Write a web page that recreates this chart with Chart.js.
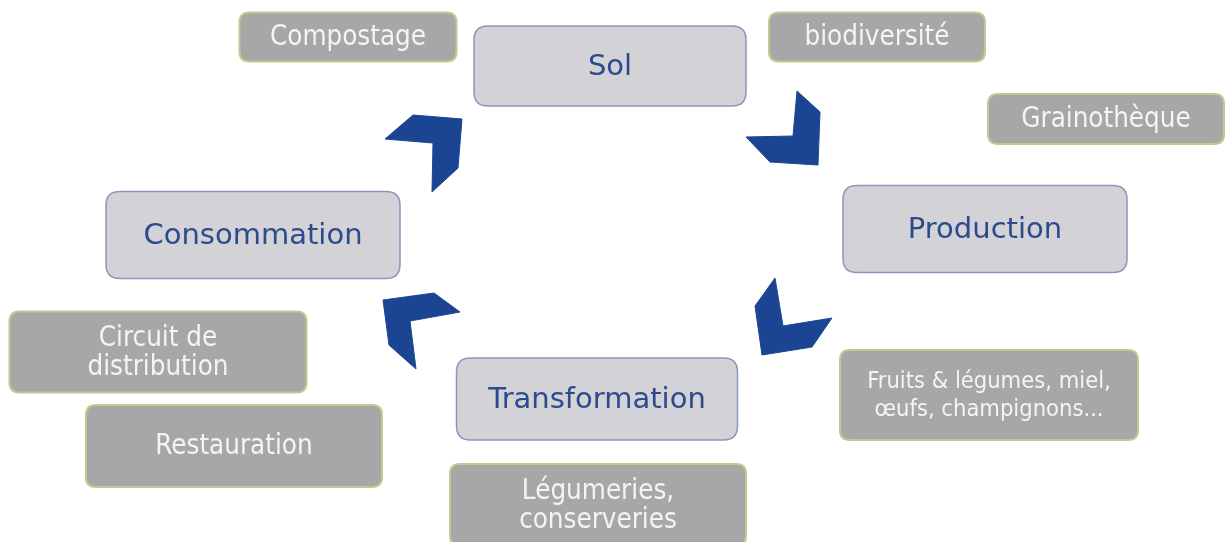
<!DOCTYPE html>
<html>
<head>
<meta charset="utf-8">
<script src="https://cdn.jsdelivr.net/npm/chart.js@4/dist/chart.umd.min.js"></script>
<style>
  html, body { margin: 0; padding: 0; background: #fff; }
  #wrap { width: 1225px; height: 542px; position: relative; }
</style>
</head>
<body>
<div id="wrap"><canvas id="cycleChart"></canvas></div>
<script>
// main steps of the cycle (centres and box sizes, in picture units)
const mainLabels = ['Sol', 'Production', 'Transformation', 'Consommation'];
const mainX = [610, 985, 597, 253];
const mainY = [66, 229, 399, 235];
const mainW = [272, 284, 281, 294];
const mainH = [80, 87, 82, 87];

// side notes
const sideLabels = [
  ['Compostage'],
  ['biodiversité'],
  ['Grainothèque'],
  ['Fruits & légumes, miel,', 'œufs, champignons...'],
  ['Circuit de', 'distribution'],
  ['Restauration'],
  ['Légumeries,', 'conserveries']
];
const sideX = [348, 877, 1106, 989, 158, 234, 598];
const sideY = [37, 37, 119, 395, 352, 446, 505];
const sideW = [217, 216, 236, 298, 297, 296, 296];
const sideH = [49, 49, 50, 90, 81, 82, 82];

// chevron arrows between steps
const arrowConsoSolX = [413, 462, 458, 432, 433, 385];
const arrowConsoSolY = [115, 119, 168, 192, 143, 139];
const arrowSolProdX = [797, 820, 818, 770, 746, 793];
const arrowSolProdY = [91, 112, 165, 162, 137, 136];
const arrowProdTransX = [775, 783, 832, 812, 762, 755];
const arrowProdTransY = [278, 326, 318, 347, 355, 306];
const arrowTransConsoX = [383, 434, 460, 410, 416, 389];
const arrowTransConsoY = [300, 293, 312, 321, 369, 345];

const ARROW_BLUE = '#1b4593';

function toPoints(xs, ys) {
  const pts = xs.map((x, i) => ({ x: x, y: ys[i] }));
  pts.push({ x: xs[0], y: ys[0] });
  return pts;
}

function chevron(xs, ys) {
  return {
    data: toPoints(xs, ys),
    borderColor: ARROW_BLUE,
    backgroundColor: ARROW_BLUE,
    borderWidth: 1,
    pointRadius: 0,
    tension: 0,
    fill: 'shape'
  };
}

function roundedBox(ctx, x, y, w, h, r) {
  ctx.beginPath();
  ctx.moveTo(x + r, y);
  ctx.lineTo(x + w - r, y);
  ctx.quadraticCurveTo(x + w, y, x + w, y + r);
  ctx.lineTo(x + w, y + h - r);
  ctx.quadraticCurveTo(x + w, y + h, x + w - r, y + h);
  ctx.lineTo(x + r, y + h);
  ctx.quadraticCurveTo(x, y + h, x, y + h - r);
  ctx.lineTo(x, y + r);
  ctx.quadraticCurveTo(x, y, x + r, y);
  ctx.closePath();
}

const boxesPlugin = {
  id: 'boxes',
  beforeDatasetsDraw(chart) {
    const ctx = chart.ctx;
    const xs = chart.scales.x, ys = chart.scales.y;
    ctx.save();
    ctx.textAlign = 'center';
    ctx.textBaseline = 'middle';

    // side notes
    sideLabels.forEach((lines, i) => {
      const l = xs.getPixelForValue(sideX[i] - sideW[i] / 2);
      const r = xs.getPixelForValue(sideX[i] + sideW[i] / 2);
      const t = ys.getPixelForValue(sideY[i] - sideH[i] / 2);
      const b = ys.getPixelForValue(sideY[i] + sideH[i] / 2);
      roundedBox(ctx, l, t, r - l, b - t, 10);
      ctx.fillStyle = '#a7a7a7';
      ctx.fill();
      ctx.lineWidth = 2;
      ctx.strokeStyle = '#b8cd8f';
      ctx.stroke();

      const small = lines[0].length > 15;
      ctx.font = (small ? '23.5px' : '27.5px') + ' "DejaVu Sans Condensed", "DejaVu Sans", sans-serif';
      ctx.fillStyle = '#f4f4f4';
      const gap = small ? 28 : 29;
      const cy = (t + b) / 2 + 1;
      lines.forEach((txt, k) => {
        ctx.fillText(txt, (l + r) / 2, cy + (k - (lines.length - 1) / 2) * gap);
      });
    });

    // main steps
    mainLabels.forEach((label, i) => {
      const l = xs.getPixelForValue(mainX[i] - mainW[i] / 2);
      const r = xs.getPixelForValue(mainX[i] + mainW[i] / 2);
      const t = ys.getPixelForValue(mainY[i] - mainH[i] / 2);
      const b = ys.getPixelForValue(mainY[i] + mainH[i] / 2);
      roundedBox(ctx, l, t, r - l, b - t, 14);
      ctx.fillStyle = '#d3d3d7';
      ctx.fill();
      ctx.lineWidth = 1.5;
      ctx.strokeStyle = '#8797bd';
      ctx.stroke();

      ctx.font = '29px "DejaVu Sans", sans-serif';
      ctx.fillStyle = '#2c4b8d';
      ctx.fillText(label, (l + r) / 2, (t + b) / 2 + 1);
    });
    ctx.restore();
  }
};

new Chart(document.getElementById('cycleChart'), {
  type: 'line',
  data: {
    datasets: [
      chevron(arrowConsoSolX, arrowConsoSolY),
      chevron(arrowSolProdX, arrowSolProdY),
      chevron(arrowProdTransX, arrowProdTransY),
      chevron(arrowTransConsoX, arrowTransConsoY)
    ]
  },
  options: {
    responsive: true,
    maintainAspectRatio: false,
    animation: false,
    devicePixelRatio: 1,
    events: [],
    layout: { padding: 0 },
    scales: {
      x: { type: 'linear', min: 0, max: 1225, display: false },
      y: { type: 'linear', min: 0, max: 542, reverse: true, display: false }
    },
    plugins: {
      legend: { display: false },
      tooltip: { enabled: false }
    }
  },
  plugins: [boxesPlugin]
});
</script>
</body>
</html>
